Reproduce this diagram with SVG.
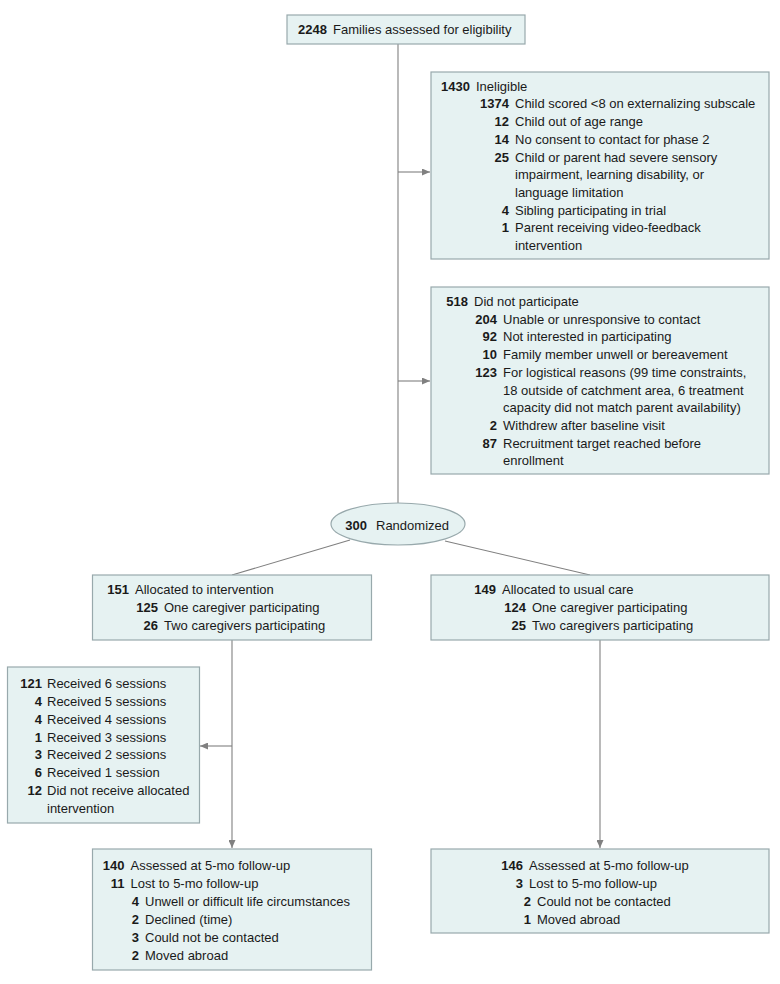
<svg xmlns="http://www.w3.org/2000/svg" width="780" height="984" viewBox="0 0 780 984">
<style>
text{font-family:"Liberation Sans",Arial,sans-serif;font-size:13px;fill:#1a1a1a}
.n{font-weight:bold;text-anchor:end}
.box{fill:#e6f2f2;stroke:#98a9ac;stroke-width:1.2}
.ln{stroke:#808080;stroke-width:1.1;fill:none}
.ar{marker-end:url(#ah)}
</style>
<defs>
<marker id="ah" markerUnits="userSpaceOnUse" markerWidth="9" markerHeight="7" refX="8" refY="3.5" orient="auto">
<path d="M0,0 L8,3.5 L0,7 z" fill="#808080"/>
</marker>
</defs>
<rect width="780" height="984" fill="#ffffff"/>
<g id="connectors">
<line class="ln" x1="398" y1="44" x2="398" y2="503"/>
<line class="ln ar" x1="398" y1="172" x2="430" y2="172"/>
<line class="ln ar" x1="398" y1="381" x2="430" y2="381"/>
<line class="ln" x1="350" y1="540" x2="232" y2="575"/>
<line class="ln" x1="445" y1="541" x2="590" y2="575"/>
<line class="ln ar" x1="232" y1="640" x2="232" y2="848"/>
<line class="ln ar" x1="232" y1="746" x2="200" y2="746"/>
<line class="ln ar" x1="600" y1="640" x2="600" y2="848"/>
</g>
<g id="assessed">
<rect class="box" x="287" y="15" width="238" height="29"/>
<text class="n" x="327" y="34">2248</text>
<text x="333" y="34">Families assessed for eligibility</text>
</g>
<g id="ineligible">
<rect class="box" x="431" y="72" width="338" height="187"/>
<text class="n" x="470" y="90.7">1430</text><text x="476" y="90.7">Ineligible</text>
<text class="n" x="509" y="108.4">1374</text><text x="515" y="108.4">Child scored &lt;8 on externalizing subscale</text>
<text class="n" x="509" y="126.1">12</text><text x="515" y="126.1">Child out of age range</text>
<text class="n" x="509" y="143.8">14</text><text x="515" y="143.8">No consent to contact for phase 2</text>
<text class="n" x="509" y="161.5">25</text><text x="515" y="161.5">Child or parent had severe sensory</text>
<text x="515" y="179.2">impairment, learning disability, or</text>
<text x="515" y="196.9">language limitation</text>
<text class="n" x="509" y="214.6">4</text><text x="515" y="214.6">Sibling participating in trial</text>
<text class="n" x="509" y="232.3">1</text><text x="515" y="232.3">Parent receiving video-feedback</text>
<text x="515" y="250">intervention</text>
</g>
<g id="notparticipate">
<rect class="box" x="431" y="287" width="338" height="187"/>
<text class="n" x="468" y="306">518</text><text x="474" y="306">Did not participate</text>
<text class="n" x="497" y="323.7">204</text><text x="503" y="323.7">Unable or unresponsive to contact</text>
<text class="n" x="497" y="341.4">92</text><text x="503" y="341.4">Not interested in participating</text>
<text class="n" x="497" y="359.1">10</text><text x="503" y="359.1">Family member unwell or bereavement</text>
<text class="n" x="497" y="376.8">123</text><text x="503" y="376.8">For logistical reasons (99 time constraints,</text>
<text x="503" y="394.5">18 outside of catchment area, 6 treatment</text>
<text x="503" y="412.2">capacity did not match parent availability)</text>
<text class="n" x="497" y="429.9">2</text><text x="503" y="429.9">Withdrew after baseline visit</text>
<text class="n" x="497" y="447.6">87</text><text x="503" y="447.6">Recruitment target reached before</text>
<text x="503" y="465.3">enrollment</text>
</g>
<g id="randomized">
<ellipse class="box" cx="398" cy="524" rx="67" ry="21"/>
<text class="n" x="367" y="529.5">300</text><text x="376" y="529.5">Randomized</text>
</g>
<g id="intervention">
<rect class="box" x="92.5" y="575" width="279" height="65"/>
<text class="n" x="129" y="594">151</text><text x="135" y="594">Allocated to intervention</text>
<text class="n" x="158" y="612">125</text><text x="164" y="612">One caregiver participating</text>
<text class="n" x="158" y="630">26</text><text x="164" y="630">Two caregivers participating</text>
</g>
<g id="usualcare">
<rect class="box" x="431" y="575" width="338" height="65"/>
<text class="n" x="496" y="594">149</text><text x="502" y="594">Allocated to usual care</text>
<text class="n" x="526" y="612">124</text><text x="532" y="612">One caregiver participating</text>
<text class="n" x="526" y="630">25</text><text x="532" y="630">Two caregivers participating</text>
</g>
<g id="sessions">
<rect class="box" x="7.5" y="667" width="192" height="156"/>
<text class="n" x="42" y="688">121</text><text x="47" y="688">Received 6 sessions</text>
<text class="n" x="42" y="705.9">4</text><text x="47" y="705.9">Received 5 sessions</text>
<text class="n" x="42" y="723.7">4</text><text x="47" y="723.7">Received 4 sessions</text>
<text class="n" x="42" y="741.6">1</text><text x="47" y="741.6">Received 3 sessions</text>
<text class="n" x="42" y="759.4">3</text><text x="47" y="759.4">Received 2 sessions</text>
<text class="n" x="42" y="777.3">6</text><text x="47" y="777.3">Received 1 session</text>
<text class="n" x="42" y="795.1">12</text><text x="47" y="795.1">Did not receive allocated</text>
<text x="47" y="813">intervention</text>
</g>
<g id="followup-intervention">
<rect class="box" x="92.5" y="849" width="279" height="121"/>
<text class="n" x="124.5" y="869.5">140</text><text x="130.5" y="869.5">Assessed at 5-mo follow-up</text>
<text class="n" x="124.5" y="887.5">11</text><text x="130.5" y="887.5">Lost to 5-mo follow-up</text>
<text class="n" x="139" y="905.5">4</text><text x="145" y="905.5">Unwell or difficult life circumstances</text>
<text class="n" x="139" y="923.5">2</text><text x="145" y="923.5">Declined (time)</text>
<text class="n" x="139" y="941.5">3</text><text x="145" y="941.5">Could not be contacted</text>
<text class="n" x="139" y="959.5">2</text><text x="145" y="959.5">Moved abroad</text>
</g>
<g id="followup-usualcare">
<rect class="box" x="431" y="849" width="338" height="84"/>
<text class="n" x="523" y="869.5">146</text><text x="529" y="869.5">Assessed at 5-mo follow-up</text>
<text class="n" x="523" y="887.5">3</text><text x="529" y="887.5">Lost to 5-mo follow-up</text>
<text class="n" x="531" y="905.5">2</text><text x="537" y="905.5">Could not be contacted</text>
<text class="n" x="531" y="923.5">1</text><text x="537" y="923.5">Moved abroad</text>
</g>
</svg>
